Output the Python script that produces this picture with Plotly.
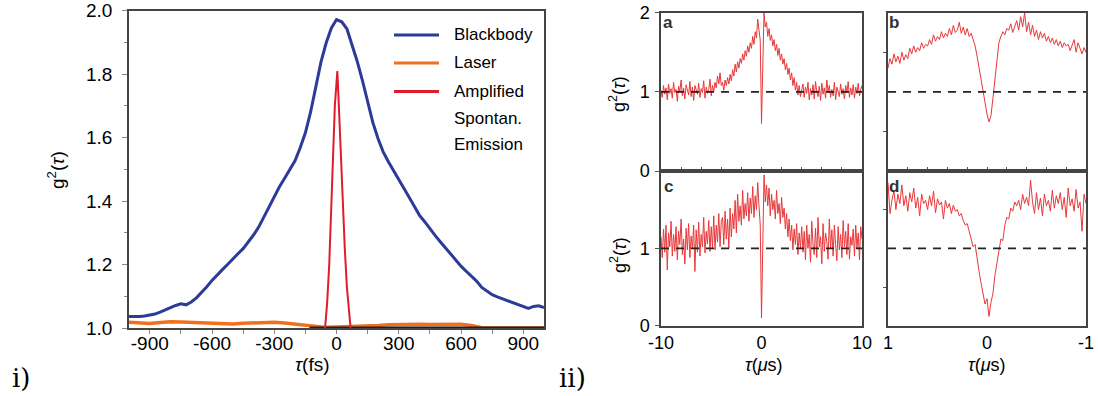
import numpy as np
import plotly.graph_objects as go

# ---------------- data: left chart (femtosecond g2) ----------------
bb_tau = list(range(-1000, 1001, 25))
bb_g2 = [1.036, 1.035, 1.036, 1.038, 1.040, 1.044, 1.050, 1.056, 1.064, 1.071,
         1.076, 1.073, 1.082, 1.095, 1.112, 1.130, 1.150, 1.168, 1.184, 1.200,
         1.218, 1.234, 1.250, 1.270, 1.293, 1.318, 1.350, 1.382, 1.415, 1.445,
         1.472, 1.500, 1.527, 1.568, 1.615, 1.680, 1.765, 1.838, 1.898, 1.945,
         1.972, 1.965, 1.943, 1.895, 1.840, 1.780, 1.713, 1.648, 1.597, 1.555,
         1.524, 1.495, 1.467, 1.437, 1.412, 1.384, 1.355, 1.335, 1.312, 1.292,
         1.272, 1.252, 1.232, 1.213, 1.195, 1.179, 1.163, 1.148, 1.128, 1.115,
         1.105, 1.098, 1.092, 1.085, 1.078, 1.072, 1.066, 1.062, 1.068, 1.070,
         1.064]

laser_tau = list(range(-1000, 1001, 50))
laser_g2 = [1.018, 1.016, 1.014, 1.017, 1.020, 1.019, 1.018, 1.016, 1.014, 1.014,
            1.013, 1.015, 1.016, 1.018, 1.018, 1.016, 1.012, 1.008, 1.004, 1.002,
            1.003, 1.004, 1.004, 1.006, 1.008, 1.010, 1.011, 1.012, 1.012, 1.011,
            1.012, 1.013, 1.012, 1.008, 1.001, 1.000, 1.000, 1.000, 1.000, 1.000,
            1.000]

ase_tau = [-55, -45, -35, -25, -15, -8, 0, 4, 10, 17, 25, 30, 40, 50, 60, 68]
ase_g2 = [1.0, 1.08, 1.2, 1.36, 1.57, 1.70, 1.80, 1.81, 1.72, 1.60, 1.47, 1.40,
          1.25, 1.13, 1.05, 1.0]

base_tau = [-130, 1000]
base_g2 = [1.002, 1.002]

legend_names = ["Blackbody", "Laser", "Amplified"]
legend_extra = ["Spontan.", "Emission"]

# ---------------- data: right panels (microsecond g2) ----------------
ab_tau = list(np.linspace(-10, 10, 161))
a_g2 = [1.02, 0.93, 1.08, 0.97, 1.05, 0.90, 1.10, 0.98, 1.04, 0.92,
        1.12, 0.99, 1.03, 0.88, 1.07, 1.00, 1.15, 0.95, 1.05, 0.91,
        1.09, 1.01, 0.96, 1.13, 0.94, 1.06, 0.89, 1.08, 1.02, 0.97,
        1.11, 0.93, 1.04, 0.99, 1.14, 0.92, 1.06, 0.98, 1.03, 1.16,
        0.95, 1.08, 1.01, 1.12, 1.05, 1.20, 1.10, 1.24, 1.08,
        1.12, 1.02, 1.15, 1.08, 1.18, 1.10, 1.22, 1.14, 1.28, 1.20,
        1.35, 1.25, 1.38, 1.30, 1.42, 1.36, 1.48, 1.40, 1.52, 1.45,
        1.58, 1.50, 1.62, 1.55, 1.70, 1.60, 1.76, 1.68,
        1.92, 1.78, 1.65, 0.60, 1.55, 2.00, 1.82, 1.88,
        1.70, 1.80, 1.65, 1.72, 1.58, 1.66, 1.52, 1.60, 1.46, 1.55,
        1.40, 1.48, 1.35, 1.42, 1.28, 1.36, 1.22, 1.30, 1.15, 1.24,
        1.08, 1.18, 1.02, 1.12, 0.96, 1.08, 0.94, 1.05,
        1.10, 0.93, 1.06, 0.98, 1.12, 0.90, 1.04, 0.96, 1.09, 0.91,
        1.13, 1.00, 0.94, 1.07, 0.89, 1.11, 0.97, 1.05, 0.92, 1.15,
        0.99, 1.08, 0.93, 1.03, 0.95, 1.12, 0.90, 1.06, 1.01, 0.94,
        1.10, 0.97, 1.04, 0.91, 1.08, 0.99, 1.13, 0.93, 1.05, 0.96,
        1.09, 0.92, 1.06, 0.98, 1.11, 0.95, 1.03, 1.08]
c_g2 = [1.15, 0.88, 1.25, 0.95, 1.30, 0.72, 1.20, 1.02, 1.35, 0.90,
        1.18, 0.96, 1.28, 0.85, 1.22, 1.05, 1.38, 0.92, 1.12, 0.80,
        1.26, 0.98, 1.32, 0.88, 1.16, 1.00, 1.30, 0.70, 1.24, 0.95,
        1.34, 0.90, 1.18, 1.02, 1.40, 0.94, 1.22, 1.06, 1.36, 0.96,
        1.28, 1.00, 1.42, 0.98, 1.30, 1.08, 1.45, 1.02, 1.35,
        1.40, 1.05, 1.48, 1.12, 1.38, 1.00, 1.52, 1.15, 1.45, 1.25,
        1.62, 1.20, 1.70, 1.35, 1.55, 1.30, 1.75, 1.38, 1.58, 1.42,
        1.72, 1.35, 1.65, 1.45, 1.80, 1.40, 1.68, 1.50,
        1.85, 1.55, 1.30, 0.10, 1.40, 1.95, 1.60, 1.82,
        1.55, 1.78, 1.42, 1.70, 1.50, 1.62, 1.38, 1.75, 1.45, 1.58,
        1.32, 1.66, 1.40, 1.52, 1.25, 1.45, 1.15, 1.38, 1.10, 1.30,
        0.98, 1.25, 1.05, 1.32, 0.92, 1.20, 1.00, 1.28,
        0.95, 1.22, 0.85, 1.30, 1.00, 1.18, 0.82, 1.35, 1.05, 0.92,
        1.26, 0.88, 1.40, 1.02, 1.15, 0.80, 1.32, 0.96, 1.20, 1.08,
        0.86, 1.38, 1.00, 1.24, 0.90, 1.30, 1.05, 0.84, 1.28, 0.98,
        1.18, 0.88, 1.36, 1.02, 1.22, 0.92, 1.32, 0.86, 1.15, 1.04,
        1.25, 0.90, 1.30, 1.00, 1.20, 0.85, 1.28, 1.12]

bd_tau = list(np.linspace(1, -1, 101))
b_g2 = [1.30, 1.42, 1.35, 1.48, 1.38, 1.45, 1.36, 1.50, 1.40, 1.47,
        1.42, 1.55, 1.48, 1.58, 1.50, 1.56, 1.52, 1.62, 1.55, 1.60,
        1.58, 1.66, 1.60, 1.72, 1.64, 1.70, 1.66, 1.76, 1.68, 1.74,
        1.70, 1.80, 1.72, 1.84, 1.75, 1.78, 1.88, 1.74, 1.82, 1.72, 1.80,
        1.70, 1.74, 1.66, 1.58, 1.45, 1.30, 1.12, 0.98, 0.85, 0.72,
        0.62, 0.70, 0.92, 1.18, 1.45, 1.62, 1.70, 1.76, 1.72, 1.80,
        1.78, 1.86, 1.75, 1.84, 1.90, 1.78, 1.95, 1.82, 2.00, 1.76,
        1.88, 1.72, 1.84, 1.70, 1.78, 1.66, 1.76, 1.68, 1.74, 1.64,
        1.70, 1.62, 1.68, 1.60, 1.66, 1.58, 1.64, 1.56, 1.62, 1.58,
        1.60, 1.52, 1.58, 1.66, 1.50, 1.62, 1.55, 1.48, 1.56, 1.50]
d_g2 = [1.85, 1.45, 1.62, 1.75, 1.50, 1.70, 1.58, 1.82, 1.55, 1.68,
        1.48, 1.72, 1.60, 1.78, 1.52, 1.66, 1.42, 1.70, 1.58, 1.62,
        1.50, 1.68, 1.55, 1.74, 1.46, 1.64, 1.56, 1.60, 1.38, 1.62,
        1.52, 1.58, 1.45, 1.56, 1.48, 1.50,
        1.42, 1.45, 1.36, 1.30, 1.32, 1.22, 1.15, 1.02, 1.05, 0.85,
        0.70, 0.55, 0.40, 0.28, 0.35, 0.12, 0.30, 0.42, 0.65, 0.82,
        0.95, 1.12, 1.10, 1.30, 1.40, 1.38, 1.52, 1.48, 1.60, 1.55,
        1.62, 1.50, 1.70, 1.58, 1.66, 1.55, 1.88, 1.60, 1.45, 1.72,
        1.50, 1.65, 1.42, 1.70, 1.55, 1.62, 1.48, 1.75, 1.52, 1.68,
        1.58, 1.72, 1.50, 1.66, 1.40, 1.78, 1.55, 1.64, 1.48, 1.76,
        1.52, 1.60, 1.22, 1.70, 1.58]

left_xticks = [-900, -600, -300, 0, 300, 600, 900]
left_yticks = [1.0, 1.2, 1.4, 1.6, 1.8, 2.0]
panel_letters = ["a", "b", "c", "d"]
ref_level = 1.0

# ---------------- styling ----------------
W, H = 1098, 396
BLUE = "#2c3a98"
ORANGE = "#f0701e"
RED_ASE = "#e01c2c"
RED = "#e8383a"
AX = "#444444"
FONT = "Arial, Liberation Sans, Helvetica, sans-serif"


def px(x):
    return x / W


def py(y):
    return 1 - y / H


fig = go.Figure()

fig.add_trace(go.Scatter(x=bb_tau, y=bb_g2, mode="lines", line=dict(color=BLUE, width=3),
                         xaxis="x", yaxis="y", showlegend=False))
fig.add_trace(go.Scatter(x=laser_tau, y=laser_g2, mode="lines", line=dict(color=ORANGE, width=3.5),
                         xaxis="x", yaxis="y", showlegend=False))
fig.add_trace(go.Scatter(x=base_tau, y=base_g2, mode="lines", line=dict(color="#2a1a1a", width=1.5),
                         xaxis="x", yaxis="y", showlegend=False))
fig.add_trace(go.Scatter(x=ase_tau, y=ase_g2, mode="lines", line=dict(color=RED_ASE, width=2),
                         xaxis="x", yaxis="y", showlegend=False))

shapes = []
panels = [("x2", "y2", ab_tau, a_g2), ("x3", "y3", bd_tau, b_g2),
          ("x4", "y4", ab_tau, c_g2), ("x5", "y5", bd_tau, d_g2)]
for xa, ya, xs, ys in panels:
    fig.add_trace(go.Scatter(x=xs, y=ys, mode="lines", line=dict(color=RED, width=1),
                             xaxis=xa, yaxis=ya, showlegend=False))
    shapes.append(dict(type="line", xref=xa + " domain", yref=ya, x0=0, x1=1,
                       y0=ref_level, y1=ref_level,
                       line=dict(color="#222", width=1.8, dash="8px,7px")))

tickfont = dict(family=FONT, size=19, color="black")
tickfont_r = dict(family=FONT, size=18, color="black")

common_line = dict(showline=True, linecolor=AX, linewidth=1.5, mirror=True, showgrid=False,
                   zeroline=False, automargin=False)

xdom_l = [px(129), px(544)]
ydom_l = [py(328), py(10.7)]
xdom_a = [px(661), px(862)]
xdom_b = [px(888), px(1086)]
ydom_t = [py(171), py(12.7)]
ydom_b = [py(325.7), py(171)]

layout = dict(
    width=W, height=H, margin=dict(l=0, r=0, t=0, b=0, pad=0, autoexpand=False),
    paper_bgcolor="white", plot_bgcolor="white",
    font=dict(family=FONT, color="black"),
    xaxis=dict(domain=xdom_l, range=[-1000, 1000], anchor="y",
               tickvals=left_xticks, ticktext=[str(v) for v in left_xticks],
               ticks="outside", ticklen=4, tickcolor="#888", tickfont=tickfont,
               ticklabelstandoff=-7,
               minor=dict(dtick=150, tick0=-900, ticks="outside", ticklen=4, tickcolor="#888"),
               **common_line),
    yaxis=dict(domain=ydom_l, range=[1.0, 2.0], anchor="x",
               tickvals=left_yticks, ticktext=["%.1f" % v for v in left_yticks],
               ticks="outside", ticklen=5, tickcolor="#888", tickfont=tickfont,
               ticklabelstandoff=6,
               minor=dict(dtick=0.1, tick0=1.0, ticks="outside", ticklen=3, tickcolor="#888"),
               **common_line),
    xaxis2=dict(domain=xdom_a, range=[-10, 10], anchor="y2", showticklabels=False,
                ticks="inside", dtick=2, tick0=0, ticklen=4, tickcolor="#555", **common_line),
    yaxis2=dict(domain=ydom_t, range=[0, 2], anchor="x2", tickvals=[0, 1, 2],
                ticktext=["0", "1", "2"], ticks="outside", ticklen=4, tickcolor="#555",
                tickfont=tickfont_r, ticklabelstandoff=2, **common_line),
    xaxis3=dict(domain=xdom_b, range=[1, -1], anchor="y3", showticklabels=False,
                ticks="inside", dtick=0.2, tick0=0, ticklen=4, tickcolor="#555", **common_line),
    yaxis3=dict(domain=ydom_t, range=[0, 2], anchor="x3", tickvals=[0.5, 1.5],
                showticklabels=False, ticks="outside", ticklen=3, tickcolor="#555", **common_line),
    xaxis4=dict(domain=xdom_a, range=[-10, 10], anchor="y4", tickvals=[-10, 0, 10],
                ticktext=["-10", "0", "10"], ticks="", tickfont=tickfont_r, **common_line),
    yaxis4=dict(domain=ydom_b, range=[0, 2], anchor="x4", tickvals=[0, 1],
                ticktext=["0", "1"], ticks="outside", ticklen=4, tickcolor="#555",
                tickfont=tickfont_r, ticklabelstandoff=2, **common_line),
    xaxis5=dict(domain=xdom_b, range=[1, -1], anchor="y5", tickvals=[1, 0, -1],
                ticktext=["1", "0", "-1"], ticks="", tickfont=tickfont_r, **common_line),
    yaxis5=dict(domain=ydom_b, range=[0, 2], anchor="x5", tickvals=[0.5, 1.5],
                showticklabels=False, ticks="outside", ticklen=3, tickcolor="#555", **common_line),
)
fig.update_layout(**layout)

ann = []
g2 = "g<sup>2</sup>(<i>τ</i>)"
ann.append(dict(x=px(56), y=py(170), text=g2, textangle=-90, font=dict(size=19)))
ann.append(dict(x=px(618), y=py(94), text=g2, textangle=-90, font=dict(size=18)))
ann.append(dict(x=px(618), y=py(255), text=g2, textangle=-90, font=dict(size=18)))
ann.append(dict(x=px(312), y=py(364), text="<i>τ</i>(fs)", font=dict(size=19)))
ann.append(dict(x=px(764), y=py(365), text="<i>τ</i>(<i>μ</i>s)", font=dict(size=18)))
ann.append(dict(x=px(987), y=py(365), text="<i>τ</i>(<i>μ</i>s)", font=dict(size=18)))
ann.append(dict(x=px(21), y=py(378), text="i)", font=dict(size=26, family="DejaVu Serif, Liberation Serif, serif")))
ann.append(dict(x=px(572), y=py(378), text="ii)", font=dict(size=26, family="DejaVu Serif, Liberation Serif, serif")))
for letter, (lx, ly) in zip(panel_letters, [(668, 22), (894, 22), (668, 186), (894, 186)]):
    ann.append(dict(x=px(lx), y=py(ly), text="<b>%s</b>" % letter, font=dict(size=17, color="#333")))

# legend (left chart)
leg_rows = [35, 63, 91.5]
leg_colors = [BLUE, ORANGE, RED_ASE]
for name, yrow, col in zip(legend_names, leg_rows, leg_colors):
    shapes.append(dict(type="line", xref="paper", yref="paper", x0=px(394), x1=px(439),
                       y0=py(yrow), y1=py(yrow), line=dict(color=col, width=3)))
    ann.append(dict(x=px(452), y=py(yrow), text=name, xanchor="left", font=dict(size=17)))
for name, yrow in zip(legend_extra, [118, 144]):
    ann.append(dict(x=px(452), y=py(yrow), text=name, xanchor="left", font=dict(size=17)))

for a in ann:
    a.setdefault("xref", "paper")
    a.setdefault("yref", "paper")
    a.setdefault("showarrow", False)
    a.setdefault("xanchor", "center")
    a.setdefault("yanchor", "middle")

fig.update_layout(annotations=ann, shapes=shapes)

fig.write_html("out.html")
